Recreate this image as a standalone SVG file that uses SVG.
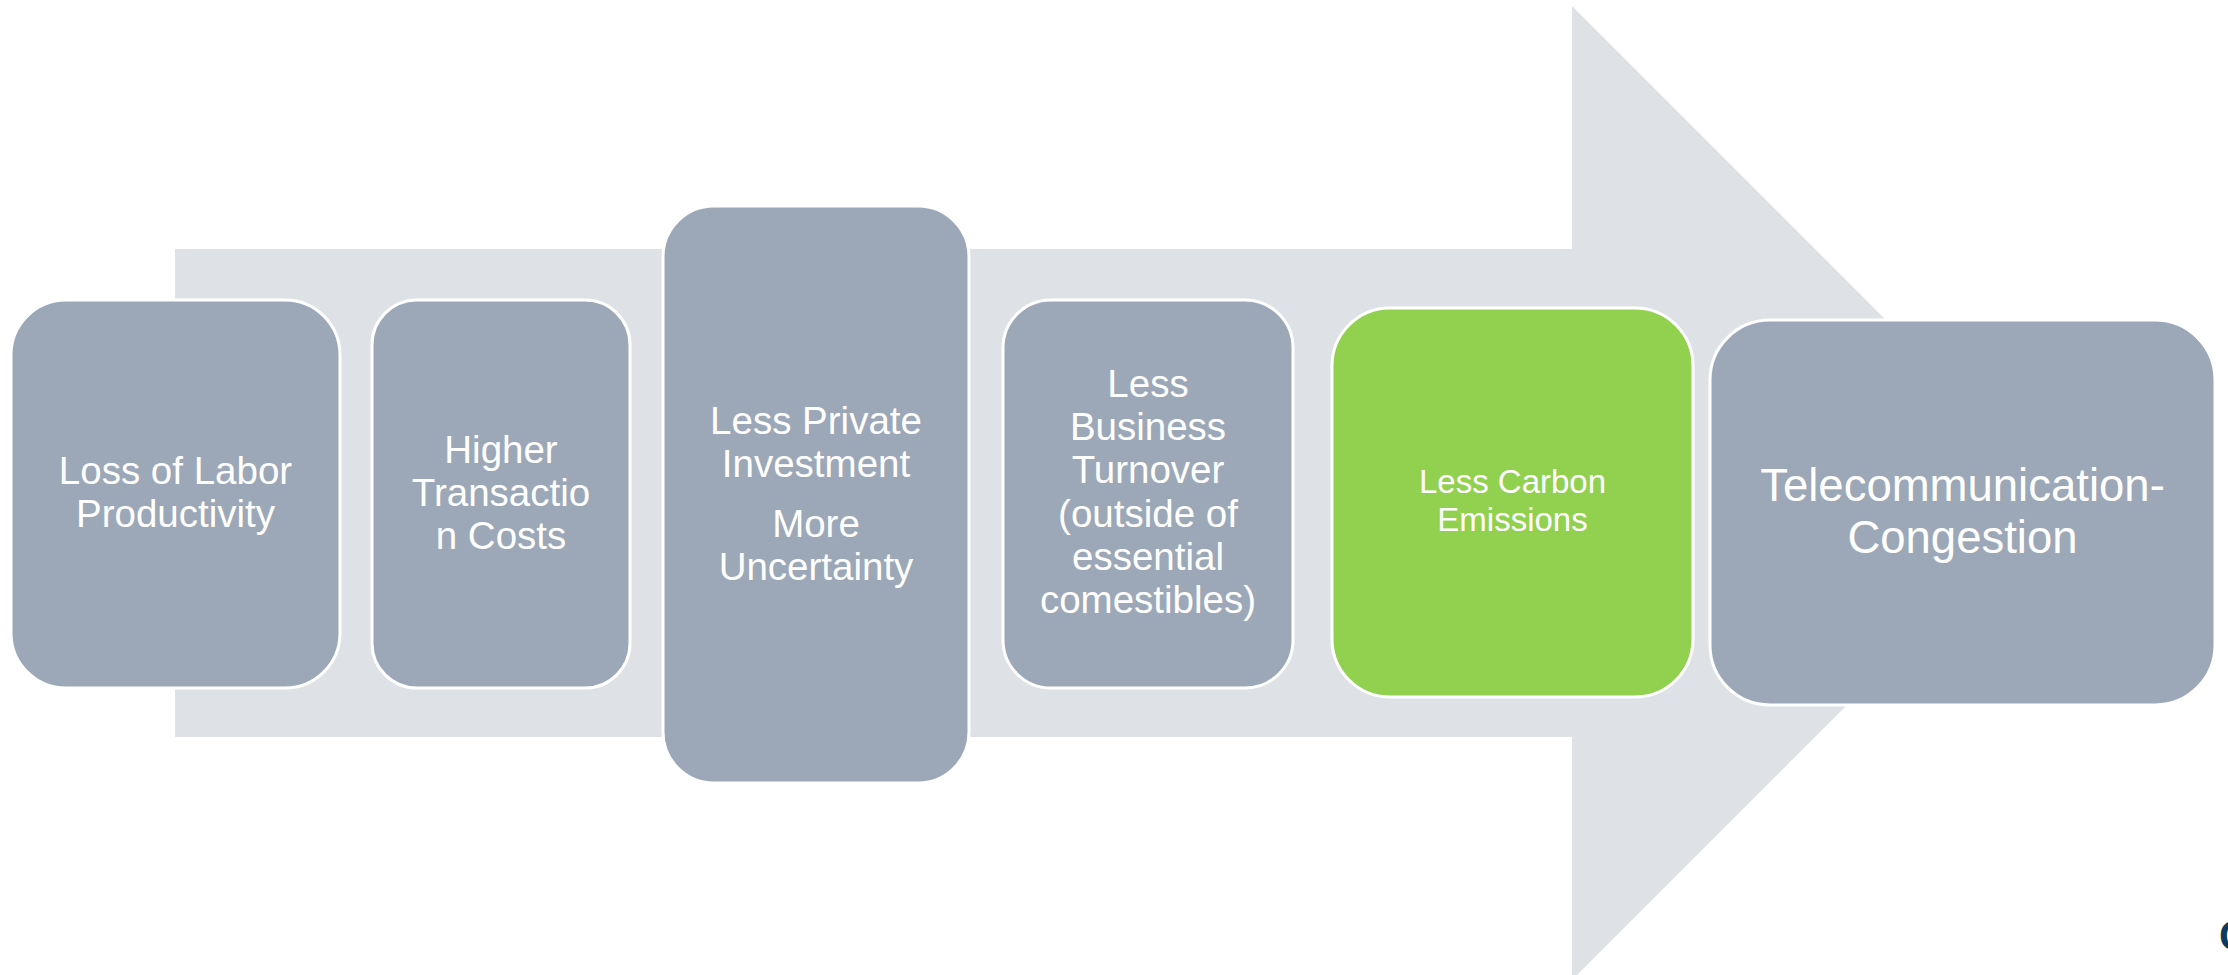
<svg xmlns="http://www.w3.org/2000/svg" width="2228" height="975" viewBox="0 0 2228 975">
<style>
.box{fill:#9CA8B7;stroke:#FFFFFF;stroke-width:3}
.green{fill:#92D050;stroke:#FFFFFF;stroke-width:3}
.t{font-family:"Liberation Sans",Arial,sans-serif;fill:#FFFFFF;text-anchor:middle}
.m{font-size:38.5px}
.s{font-size:33px}
.l{font-size:45.5px}
</style>
<rect width="2228" height="975" fill="#FFFFFF"/>
<g id="connectors">
<polygon id="arrow" points="175,249 1572,249 1572,6 2059,493 1572,980 1572,737 175,737" fill="#DEE1E6"/>
</g>
<g id="node1">
<rect class="box" x="11" y="300" width="329" height="388" rx="55" ry="55"/>
<text class="t m" x="175.5" y="484">Loss of Labor</text>
<text class="t m" x="175.5" y="527">Productivity</text>
</g>
<g id="node2">
<rect class="box" x="372" y="300" width="258" height="388" rx="45" ry="45"/>
<text class="t m" x="501" y="463">Higher</text>
<text class="t m" x="501" y="506">Transactio</text>
<text class="t m" x="501" y="549">n Costs</text>
</g>
<g id="node3">
<rect class="box" x="663" y="206" width="306" height="577" rx="51" ry="51"/>
<text class="t m" x="816" y="434">Less Private</text>
<text class="t m" x="816" y="477">Investment</text>
<text class="t m" x="816" y="537">More</text>
<text class="t m" x="816" y="580">Uncertainty</text>
</g>
<g id="node4">
<rect class="box" x="1003" y="300" width="290" height="388" rx="48" ry="48"/>
<text class="t m" x="1148" y="397">Less</text>
<text class="t m" x="1148" y="440">Business</text>
<text class="t m" x="1148" y="483">Turnover</text>
<text class="t m" x="1148" y="527">(outside of</text>
<text class="t m" x="1148" y="570">essential</text>
<text class="t m" x="1148" y="613">comestibles)</text>
</g>
<g id="node5">
<rect class="green" x="1332" y="308" width="361" height="389" rx="58" ry="58"/>
<text class="t s" x="1512.5" y="493">Less Carbon</text>
<text class="t s" x="1512.5" y="531">Emissions</text>
</g>
<g id="node6">
<rect class="box" x="1710" y="320" width="505" height="385" rx="60" ry="60"/>
<text class="t l" x="1962.5" y="501">Telecommunication-</text>
<text class="t l" x="1962.5" y="553">Congestion</text>
</g>
<text x="2219" y="950" font-family="Liberation Sans, Arial, sans-serif" font-size="42" font-weight="bold" fill="#0D3B5E">C</text>
</svg>
